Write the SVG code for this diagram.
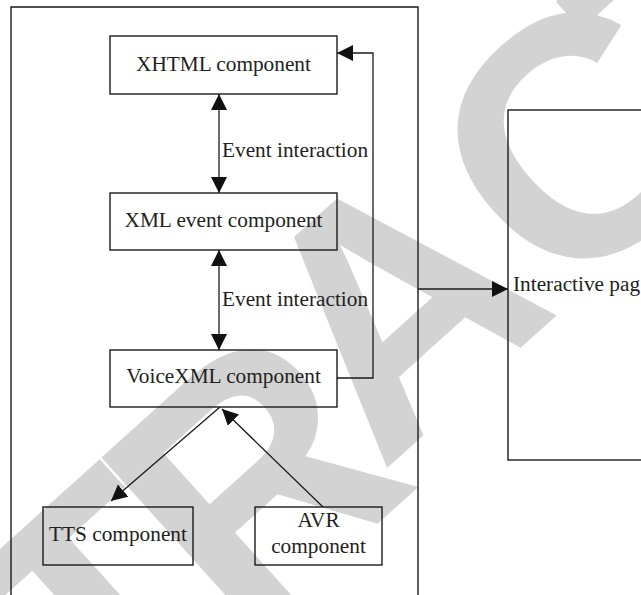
<svg xmlns="http://www.w3.org/2000/svg" width="641" height="595" viewBox="0 0 641 595">
<style>
.box{fill:none;stroke:#1a1a1a;stroke-width:1.4}
.ln{fill:none;stroke:#1a1a1a;stroke-width:1.3}
.t{font-family:"Liberation Serif","Times New Roman",serif;font-size:21.3px;fill:#231f20}
.c{text-anchor:middle}
.wm{font-family:"Liberation Sans",Arial,sans-serif;font-weight:bold;font-size:340px;fill:#d3d3d3}
</style>
<defs>
<marker id="ah" markerUnits="userSpaceOnUse" markerWidth="17" markerHeight="17" refX="16" refY="8" orient="auto-start-reverse" viewBox="0 0 17 17">
<path d="M0,0 L16,8 L0,16 z" fill="#111"/>
</marker>
</defs>
<rect width="641" height="595" fill="#fff"/>
<text class="wm" transform="translate(-307,1093) rotate(-42)" dx="0 0 50 -24 -26 0 -49 0 0" dy="0 0 35 0 -35 0 0 0 0">RETRACTED</text>
<g id="container"><path class="box" d="M11,600 V7 H418 V600"/></g>
<g id="xhtml"><rect class="box" x="110" y="36" width="227" height="58"/><text class="t c" x="223.5" y="71">XHTML component</text></g>
<g id="xmlevent"><rect class="box" x="110" y="193" width="227" height="57"/><text class="t c" x="223.5" y="227">XML event component</text></g>
<g id="voicexml"><rect class="box" x="110" y="350" width="227" height="57"/><text class="t c" x="223.5" y="383">VoiceXML component</text></g>
<g id="tts"><rect class="box" x="43" y="507" width="150" height="58"/><text class="t c" x="118" y="541">TTS component</text></g>
<g id="avr"><rect class="box" x="255" y="507" width="127" height="58"/><text class="t c" x="318.5" y="527">AVR</text><text class="t c" x="318.5" y="553">component</text></g>
<g id="interactive"><rect class="box" x="508" y="110" width="160" height="350"/><text class="t" x="513" y="291">Interactive pag</text></g>
<g id="connectors">
<path class="ln" d="M219,94 V193" marker-start="url(#ah)" marker-end="url(#ah)"/>
<path class="ln" d="M219,250 V350" marker-start="url(#ah)" marker-end="url(#ah)"/>
<path class="ln" d="M337,378 H373 V53 H337" marker-end="url(#ah)"/>
<path class="ln" d="M220,407 L111,501" marker-end="url(#ah)"/>
<path class="ln" d="M323,507 L222,409" marker-end="url(#ah)"/>
<path class="ln" d="M418,289 H508" marker-end="url(#ah)"/>
<text class="t" x="222" y="156.5">Event interaction</text>
<text class="t" x="222" y="305.5">Event interaction</text>
</g>
</svg>
